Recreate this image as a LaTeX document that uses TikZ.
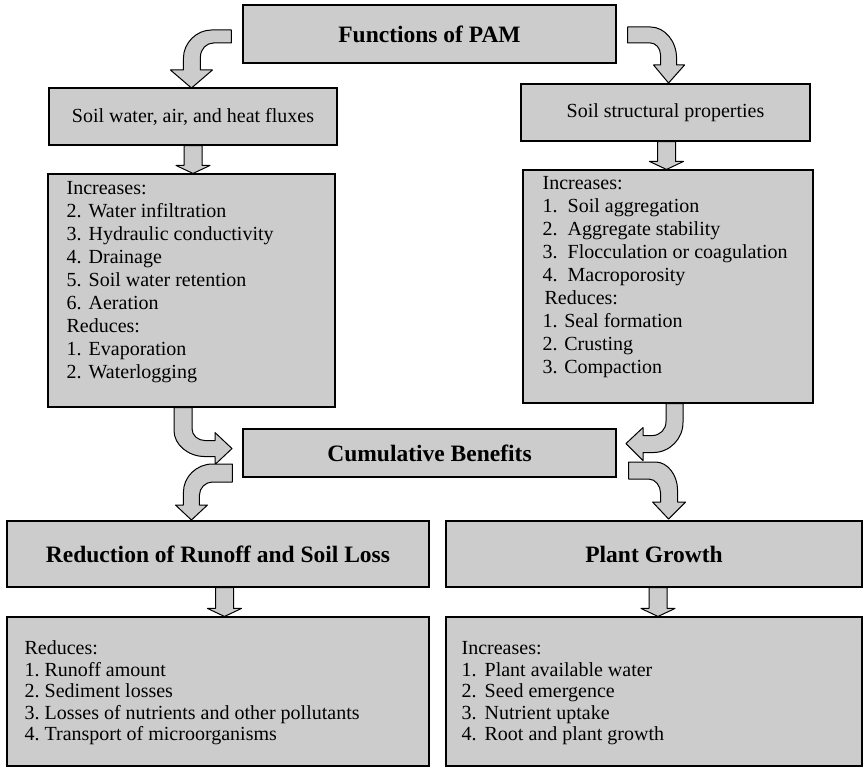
\documentclass[tikz,border=0pt]{standalone}
\usepackage{fontspec}
\setmainfont{Liberation Serif}
\usepackage{array}
\usetikzlibrary{calc}

\definecolor{boxgray}{gray}{0.8}
\tikzset{
    box/.style={draw, fill=boxgray, line width=1.1pt, inner sep=0pt},
    blockarrow/.style={draw, fill=boxgray, line width=1pt, line join=round},
    headtext/.style={font=\fontsize{23.5}{28}\selectfont\bfseries},
    bodytext/.style={font=\fontsize{20}{23}\selectfont},
    listtext/.style={font=\fontsize{20}{23}\selectfont, anchor=north west, inner sep=0pt},
    lowlisttext/.style={font=\fontsize{20}{21.5}\selectfont, anchor=north west, inner sep=0pt}
}
\newcommand{\blockdown}[2]{%
    \draw[blockarrow] let \p1=#1, \p2=#2 in
        (\x1-9pt,\y1) -- (\x1-9pt,\y2+8pt) -- (\x1-17pt,\y2+8pt) -- (\x1,\y2)
        -- (\x1+17pt,\y2+8pt) -- (\x1+9pt,\y2+8pt) -- (\x1+9pt,\y1) -- cycle;}

\begin{document}
\begin{tikzpicture}[x=1pt,y=-1pt]
            \useasboundingbox (0,0) rectangle (865,768);
            \node[box, headtext, minimum width=373pt, minimum height=58pt] (pam) at (429.5,34) {Functions of PAM};
            \node[box, bodytext, minimum width=288pt, minimum height=57pt] (soilw) at (193,116.5) {Soil water, air, and heat fluxes};
            \node[box, bodytext, minimum width=289pt, minimum height=57pt] (soils) at (665.5,112.5) {Soil structural properties};
            \node[box, minimum width=287pt, minimum height=233pt] (incl) at (191.5,290.5) {};
            \node[box, minimum width=290pt, minimum height=233pt] (incr) at (668,286.5) {};
            \node[box, headtext, minimum width=373pt, minimum height=48pt] (cum) at (429.5,453) {Cumulative Benefits};
            \node[box, headtext, minimum width=422pt, minimum height=66pt] (runoff) at (218,554) {Reduction of Runoff and Soil Loss};
            \node[box, headtext, minimum width=416pt, minimum height=66pt] (plant) at (654,554) {Plant Growth};
            \node[box, minimum width=422pt, minimum height=149pt] (redl) at (218,691.5) {};
            \node[box, minimum width=416pt, minimum height=149pt] (incb) at (654,691.5) {};
            \node[listtext] (incltxt) at ($(incl.north west)+(19,5)$) {%
                \begin{tabular}{@{}p{22pt}@{}l@{}}
                    \multicolumn{2}{@{}l@{}}{Increases:}\\
                    2. & Water infiltration\\
                    3. & Hydraulic conductivity\\
                    4. & Drainage\\
                    5. & Soil water retention\\
                    6. & Aeration\\
                    \multicolumn{2}{@{}l@{}}{Reduces:}\\
                    1. & Evaporation\\
                    2. & Waterlogging
                \end{tabular}};
            \node[listtext] (incrtxt) at ($(incr.north west)+(20,4)$) {%
                \begin{tabular}{@{}p{25pt}@{}l@{}}
                    \multicolumn{2}{@{}l@{}}{Increases:}\\
                    1. & Soil aggregation\\
                    2. & Aggregate stability\\
                    3. & Flocculation or coagulation\\
                    4. & Macroporosity\\
                    \multicolumn{2}{@{}l@{}}{\hspace{2pt}Reduces:}\\
                    \multicolumn{2}{@{}l@{}}{1. Seal formation}\\
                    \multicolumn{2}{@{}l@{}}{2. Crusting}\\
                    \multicolumn{2}{@{}l@{}}{3. Compaction}
                \end{tabular}};
            \node[lowlisttext] (redltxt) at ($(redl.north west)+(18,23)$) {%
                \begin{tabular}{@{}p{20pt}@{}l@{}}
                    \multicolumn{2}{@{}l@{}}{Reduces:}\\
                    1. & Runoff amount\\
                    2. & Sediment losses\\
                    3. & Losses of nutrients and other pollutants\\
                    4. & Transport of microorganisms
                \end{tabular}};
            \node[lowlisttext] (incbtxt) at ($(incb.north west)+(16,23)$) {%
                \begin{tabular}{@{}p{23pt}@{}l@{}}
                    \multicolumn{2}{@{}l@{}}{Increases:}\\
                    1. & Plant available water\\
                    2. & Seed emergence\\
                    3. & Nutrient uptake\\
                    4. & Root and plant growth
                \end{tabular}};
            \blockdown{(soilw.south)}{(incl.north)}
            \blockdown{([xshift=1pt]soils.south)}{(incr.north)}
            \blockdown{([xshift=6.5pt]runoff.south)}{(redl.north)}
            \blockdown{([xshift=4pt]plant.south)}{(incb.north)}
            \begin{scope}[shift={(pam.west)}]
                \draw[blockarrow] (-11,-4) -- (-31,-4) .. controls (-46,-4) and (-59,9) .. (-59,24) -- (-59,36)
                    -- (-72,36) -- (-51,54) -- (-30,36) -- (-42,36) -- (-42,23)
                    .. controls (-42,15) and (-36,9) .. (-29,9) -- (-11,9) -- cycle;
            \end{scope}
            \begin{scope}[shift={(pam.east)}]
                \draw[blockarrow] (11,-7) -- (34,-7) .. controls (48,-7) and (60,7) .. (60,24) -- (60,31)
                    -- (68,31) -- (52,49) -- (37,31) -- (44,31) -- (44,21)
                    .. controls (44,14) and (39,9) .. (34,9) -- (11,9) -- cycle;
            \end{scope}
            \begin{scope}[shift={(incl.south)}]
                \draw[blockarrow] (-17.5,0) -- (-17.5,23) .. controls (-17.5,37) and (-3.5,49) .. (13.5,49) -- (23.5,49)
                    -- (23.5,57) -- (40.5,41) -- (23.5,25) -- (23.5,33) -- (13.5,33)
                    .. controls (6.5,33) and (0.5,28) .. (0.5,21) -- (0.5,0) -- cycle;
            \end{scope}
            \begin{scope}[shift={(cum.west)}]
                \draw[blockarrow] (-10,11) -- (-30,11) .. controls (-46,11) and (-59,24) .. (-59,39) -- (-59,52)
                    -- (-67,52) -- (-51,67) -- (-35,52) -- (-43,52) -- (-43,42)
                    .. controls (-43,35) and (-37,29) .. (-30,29) -- (-10,29) -- cycle;
            \end{scope}
            \begin{scope}[shift={(incr.south)}]
                \draw[blockarrow] (15,0) -- (15,19) .. controls (15,35) and (2,49) .. (-15,49) -- (-25,49)
                    -- (-25,57) -- (-42,40) -- (-25,24) -- (-25,32) -- (-16,32)
                    .. controls (-8,32) and (-2,26) .. (-2,18) -- (-2,0) -- cycle;
            \end{scope}
            \begin{scope}[shift={(cum.east)}]
                \draw[blockarrow] (12,9) -- (39,9) .. controls (51,9) and (61,22) .. (61,37) -- (61,49)
                    -- (69,49) -- (52,66) -- (36,49) -- (44,49) -- (44,40)
                    .. controls (44,33) and (39,26) .. (32,26) -- (12,26) -- cycle;
            \end{scope}
        \end{tikzpicture}
\end{document}
